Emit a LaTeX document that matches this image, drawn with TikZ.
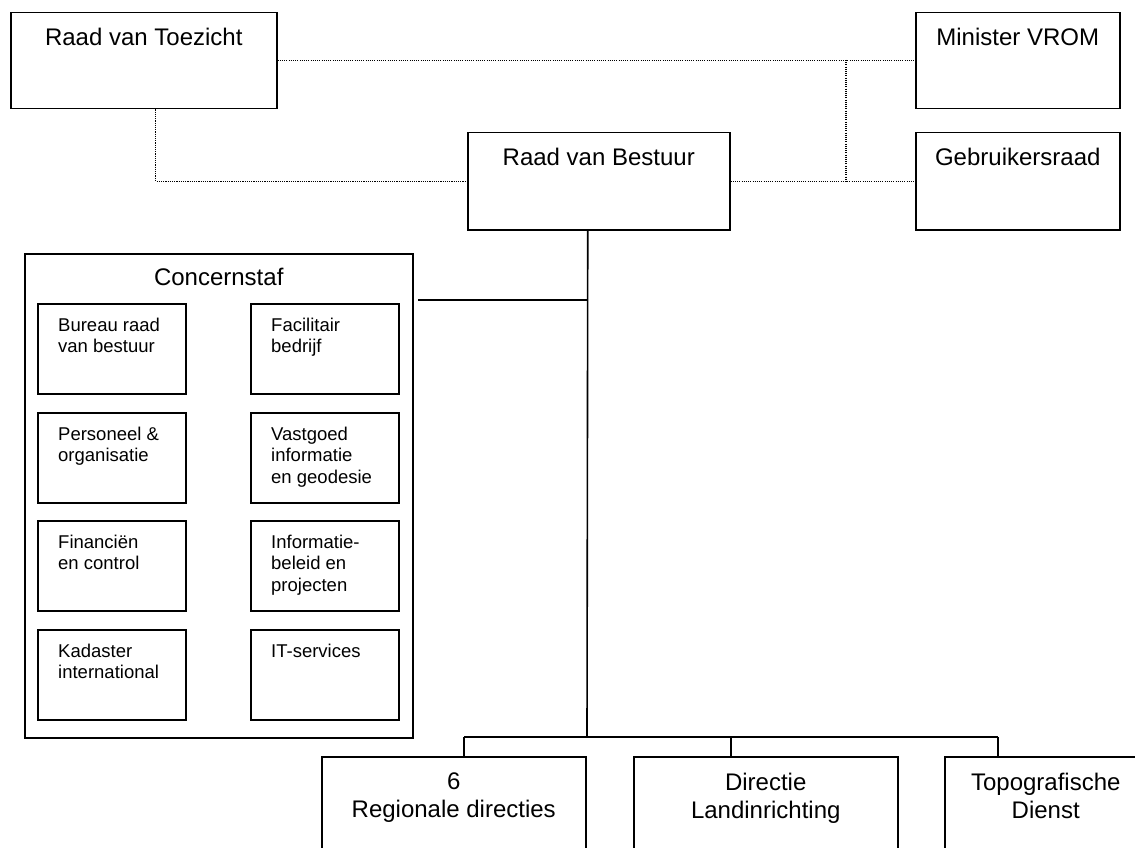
\documentclass[tikz,border=0pt]{standalone}
\usepackage{fontspec}
\setmainfont{Liberation Sans}

\begin{document}
\begin{tikzpicture}[
    x=1pt, y=-1pt,
    unit/.style={draw, line width=1.5pt, anchor=north west, inner sep=0pt},
    subunit/.style={unit, minimum width=148pt, minimum height=90pt},
    title/.style={anchor=north, inner sep=0pt, align=center, font=\fontsize{24}{27.6}\selectfont},
    subtitle/.style={anchor=north west, inner sep=0pt, align=left, font=\fontsize{18.5}{21.3}\selectfont},
    dotline/.style={line width=1.2pt, dash pattern=on 1.1pt off 1.1pt},
    orgline/.style={line width=1.6pt}
]
\useasboundingbox (0,0) rectangle (1135,848);

% Top level
\node[unit, minimum width=266pt, minimum height=96pt] (rvt) at (10,12) {};
\node[unit, minimum width=204pt, minimum height=96pt] (mvrom) at (915,12) {};
\node[unit, minimum width=262pt, minimum height=97pt] (rvb) at (467,132) {};
\node[unit, minimum width=204pt, minimum height=97pt] (geb) at (915,132) {};

\node[title] (rvt-t) at ([yshift=-16pt]rvt.north) {Raad van Toezicht};
\node[title] (mvrom-t) at ([yshift=-16pt]mvrom.north) {Minister VROM};
\node[title] (rvb-t) at ([yshift=-16pt]rvb.north) {Raad van Bestuur};
\node[title] (geb-t) at ([yshift=-16pt]geb.north) {Gebruikersraad};

% Concernstaf
\node[unit, minimum width=388pt, minimum height=484pt] (cstaf) at (24,253) {};
\node[title] (cstaf-t) at ([yshift=-15pt]cstaf.north) {Concernstaf};

\foreach \n/\x/\y/\txt in {
    bur/37/303/{Bureau raad\\van bestuur},
    fac/250/303/{Facilitair\\bedrijf},
    po/37/412/{Personeel \&\\organisatie},
    vig/250/412/{Vastgoed\\informatie\\en geodesie},
    fin/37/520/{Financiën\\en control},
    ibp/250/520/{Informatie-\\beleid en\\projecten},
    kin/37/629/{Kadaster\\international},
    its/250/629/{IT-services}} {
    \node[subunit] (\n) at (\x,\y) {};
    \node[subtitle] (\n-t) at ([xshift=21pt,yshift=-15pt]\n.north west) {\txt};
}

% Directies
\node[unit, minimum width=264pt, minimum height=120pt] (reg) at (321,756) {};
\node[unit, minimum width=264pt, minimum height=120pt] (lir) at (633,756) {};
\node[unit, minimum width=202pt, minimum height=120pt] (tdn) at (944,756) {};

\node[title] (reg-t) at ([yshift=-17pt]reg.north) {6\\Regionale directies};
\node[title] (lir-t) at ([yshift=-17pt]lir.north) {Directie\\Landinrichting};
\node[title] (tdn-t) at ([yshift=-17pt]tdn.north) {Topografische\\Dienst};

% Dotted links
\coordinate (mj) at (846,60);
\draw[dotline] (rvt.east) -- (mvrom.west);
\draw[dotline] ([xshift=12pt]rvt.south) |- (rvb.west);
\draw[dotline] (rvb.east) -- (geb.west);
\draw[dotline] (mj) -- (mj |- geb.west);

% Line of command
\coordinate (bus) at (587,737);
\coordinate (cj) at (418,300);
\coordinate (d1) at (464,737);
\coordinate (d2) at (731,737);
\coordinate (d3) at (998,737);
\draw[orgline] ([xshift=-11pt]rvb.south) -- (bus);
\draw[orgline] (cj) -- (cj -| bus);
\draw[orgline] (d1) -- (d3);
\foreach \d/\b in {d1/reg, d2/lir, d3/tdn}
    \draw[orgline] (\d) -- (\d |- \b.north);

\end{tikzpicture}
\end{document}
